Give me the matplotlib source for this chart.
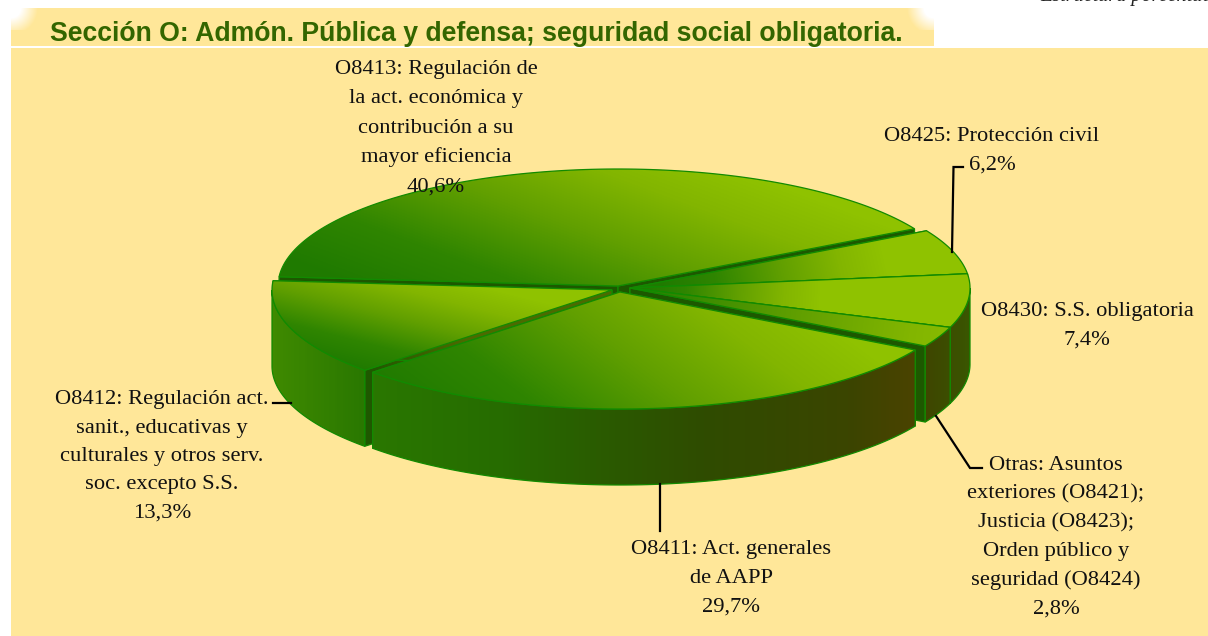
import numpy as np
import matplotlib
matplotlib.use('Agg')
from matplotlib import pyplot as plt
from matplotlib.colors import LinearSegmentedColormap
from matplotlib.patches import Polygon, Rectangle

# data, clockwise from the top right
labels = [
    ['O8425: Protección civil'],
    ['O8430: S.S. obligatoria'],
    ['Otras: Asuntos', 'exteriores (O8421);', 'Justicia (O8423);', 'Orden público y', 'seguridad (O8424)'],
    ['O8411: Act. generales', 'de AAPP'],
    ['O8412: Regulación act.', 'sanit., educativas y', 'culturales y otros serv.', 'soc. excepto S.S.'],
    ['O8413: Regulación de', 'la act. económica y', 'contribución a su', 'mayor eficiencia'],
]
values = [6.2, 7.4, 2.8, 29.7, 13.3, 40.6]
title = 'Sección O: Admón. Pública y defensa; seguridad social obligatoria.'

# pie layout in pixels
RX = 340
RY = 117
DEPTH = 76
START = 29.3
tips = [(630, 288), (630, 288), (630, 288), (620, 292), (612, 290), (618, 286)]
draw_order = [5, 0, 1, 2, 4, 3]

# label centre x, first line y, line step
label_pos = [(992, 141, 29), (1087, 316, 29), (1056, 470, 28.8),
             (731, 554, 29), (162, 404, 28.5), (436, 74, 29.3)]

# top face gradients (dark end, light end)
top_grad = [((660, 290), (880, 240)), ((640, 290), (820, 300)), ((560, 270), (1000, 340)),
            ((390, 395), (582, 139)), ((360, 370), (387, 263)), ((300, 265), (384, 39))]
top_cols = [(0, '#1f7a00'), (0.25, '#2f8500'), (0.55, '#62a000'), (0.8, '#82b500'), (1, '#8fc200')]
side_cols = [(0, '#3f8a00'), (0.13, '#2a7800'), (0.33, '#266c00'), (0.5, '#2b5800'), (0.62, '#2f4c00'),
             (0.83, '#3b4500'), (0.92, '#4a4300'), (0.94, '#3f4500'), (1, '#3a5500')]
gap_cols = [(0, '#1d5800'), (1, '#1d5800')]
olive_cols = [(0, '#1f5800'), (0.12, '#2a5c00'), (0.5, '#4c6a00'), (1, '#4c6a00')]
EDGE = '#128a00'
PANEL = '#ffe799'


def fill_grad(ax, xy, p0, p1, stops, z):
    xy = np.asarray(xy)
    x0, y0 = np.floor(xy.min(axis=0)).astype(int)
    x1, y1 = np.ceil(xy.max(axis=0)).astype(int)
    xs, ys = np.meshgrid(np.arange(x0, x1 + 1) + 0.5, np.arange(y0, y1 + 1) + 0.5)
    d = np.array(p1, dtype=float) - np.array(p0, dtype=float)
    t = ((xs - p0[0]) * d[0] + (ys - p0[1]) * d[1]) / (d @ d)
    cmap = LinearSegmentedColormap.from_list('g', stops)
    im = ax.imshow(cmap(np.clip(t, 0, 1)), extent=(x0, x1 + 1, y1 + 1, y0), aspect='auto',
                   interpolation='bilinear', zorder=z)
    clip = Polygon(xy, closed=True, transform=ax.transData)
    im.set_clip_path(clip)
    ax.add_patch(Polygon(xy, closed=True, fill=False, edgecolor=EDGE, linewidth=0.9, zorder=z + 0.1))


def arc(tip, a0, a1, dy=0):
    a = np.radians(np.linspace(a0, a1, 120))
    return np.column_stack([tip[0] + RX * np.cos(a), tip[1] - RY * np.sin(a) + dy])


plt.rcParams['font.family'] = ['Liberation Serif', 'DejaVu Serif']
fig = plt.figure(figsize=(12.08, 6.36), dpi=100, facecolor='white')
ax = fig.add_axes([0, 0, 1, 1])
ax.set_axis_off()

# panels
ax.add_patch(Rectangle((11, 48), 1197, 588, facecolor=PANEL, edgecolor='none', zorder=1))
ax.add_patch(Rectangle((11, 8), 923, 38, facecolor=PANEL, edgecolor='none', zorder=1))
for cx in (11, 934):
    xs, ys = np.meshgrid(np.arange(30) + 0.5, np.arange(22) + 0.5)
    dist = np.hypot(xs if cx == 11 else 30 - xs, ys)
    img = np.ones((22, 30, 4))
    img[..., 3] = np.clip((27 - dist) / 17, 0, 1)
    left = cx if cx == 11 else cx - 30
    ax.imshow(img, extent=(left, left + 30, 30, 8), aspect='auto', interpolation='bilinear', zorder=1.5)

ax.text(476, 41, title, family=['Liberation Sans'], fontweight='bold', fontsize=19.2,
        color='#336600', ha='center', va='baseline', zorder=6)
ax.text(1040, 1, 'Estructura porcentual', style='italic', fontsize=14.5, color='#222222',
        ha='left', va='baseline', zorder=6)

# slice angles
fracs = np.array(values) / sum(values)
ends = START - 360 * np.cumsum(fracs)
starts = np.r_[START, ends[:-1]]

z = 2
for i in draw_order:
    tip = tips[i]
    a0, a1 = starts[i], ends[i]
    # radial cut walls
    for a in (a0, a1):
        corner = arc(tip, a, a)[0]
        wall = [tip, corner, (corner[0], corner[1] + DEPTH), (tip[0], tip[1] + DEPTH)]
        if i == 4:
            fill_grad(ax, wall, (370, 0), (560, 0), olive_cols, z)
        else:
            fill_grad(ax, wall, (0, 0), (1, 0), gap_cols, z)
        z += 0.2
    # outer wall, front part only
    f0, f1 = min(a0, 0), max(a1, -180)
    if f0 > f1:
        top = arc(tip, f0, f1)
        fill_grad(ax, np.vstack([top, arc(tip, f1, f0, DEPTH)]), (272, 0), (968, 0), side_cols, z)
        z += 0.2
    # top face
    face = np.vstack([[tip], arc(tip, a0, a1)])
    fill_grad(ax, face, top_grad[i][0], top_grad[i][1], top_cols, z)
    z += 0.2

# leader lines
leaders = [[(952, 252), (953.5, 167), (963, 167)],
           [(660, 484), (660, 531)],
           [(936, 416), (970, 468), (982, 468)],
           [(273, 403), (291, 403)]]
for ln in leaders:
    pts = np.array(ln)
    ax.plot(pts[:, 0], pts[:, 1], color='black', linewidth=1.6, solid_joinstyle='miter', zorder=z)

# labels
for i in range(len(values)):
    x, y, step = label_pos[i]
    lines = labels[i] + [f'{values[i]:.1f}%'.replace('.', ',')]
    for j, line in enumerate(lines):
        ax.text(x, y + j * step, line, fontsize=16.2, color='#111111', ha='center', va='baseline', zorder=z + 1)

ax.set_xlim(0, 1208)
ax.set_ylim(636, 0)
fig.savefig('out.png', dpi=100, facecolor='white')
